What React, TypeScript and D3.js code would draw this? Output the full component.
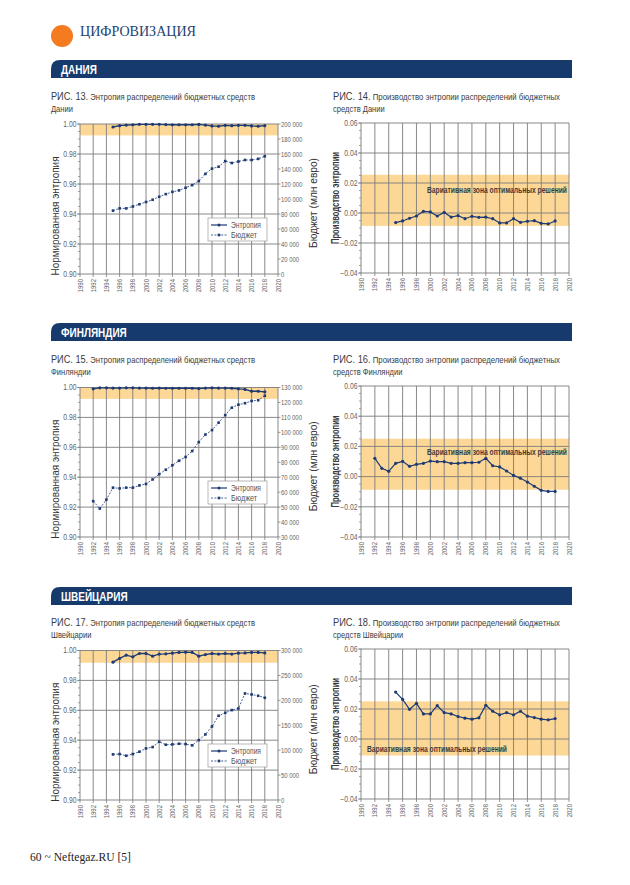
import React from 'react';
import * as d3 from 'd3';

const SANS = "'Liberation Sans', Arial, 'DejaVu Sans', sans-serif";
const SERIF = "'Liberation Serif', 'DejaVu Serif', serif";
const NAVY = '#173a6c';
const LINE = '#1d3a74';
const BAND = '#fcd796';
const GRID = '#7c7c7c';
const TICKTXT = '#666666';

// ---------- categories ----------
const xTicks = [1990, 1992, 1994, 1996, 1998, 2000, 2002, 2004, 2006, 2008, 2010, 2012, 2014, 2016, 2018, 2020];
const entropyTicks = [0.9, 0.92, 0.94, 0.96, 0.98, 1.0];
const productionTicks = [-0.04, -0.02, 0, 0.02, 0.04, 0.06];

// ---------- Denmark ----------
const dkYears = [1995, 1996, 1997, 1998, 1999, 2000, 2001, 2002, 2003, 2004, 2005, 2006, 2007, 2008, 2009, 2010, 2011, 2012, 2013, 2014, 2015, 2016, 2017, 2018];
const dkEntropy = [0.9980, 0.9989, 0.9993, 0.9995, 0.9998, 0.9998, 0.9998, 0.9998, 0.9996, 0.9995, 0.9995, 0.9995, 0.9995, 0.9997, 0.9993, 0.9987, 0.9985, 0.9991, 0.9989, 0.9991, 0.9991, 0.9987, 0.9985, 0.9989];
const dkBudget = [84500, 87500, 87500, 90000, 93000, 96000, 99000, 103000, 106500, 109500, 111500, 115000, 118500, 124000, 133500, 140500, 143000, 150500, 148000, 150000, 152000, 152000, 153500, 157000];
const dkBudgetTicks = [0, 20000, 40000, 60000, 80000, 100000, 120000, 140000, 160000, 180000, 200000];
const dkProduction = [-0.0064, -0.0053, -0.0035, -0.0020, 0.0011, 0.0007, -0.0020, 0.0004, -0.0027, -0.0018, -0.0038, -0.0022, -0.0029, -0.0027, -0.0038, -0.0066, -0.0066, -0.0038, -0.0062, -0.0055, -0.0051, -0.0069, -0.0073, -0.0053];
const dkZone = [-0.0086, 0.0255];
const dkEntropyBand = [0.9924, 1.0];

// ---------- Finland ----------
const fiYears = [1992, 1993, 1994, 1995, 1996, 1997, 1998, 1999, 2000, 2001, 2002, 2003, 2004, 2005, 2006, 2007, 2008, 2009, 2010, 2011, 2012, 2013, 2014, 2015, 2016, 2017, 2018];
const fiEntropy = [0.9991, 0.9998, 0.9998, 0.9996, 0.9996, 0.9998, 0.9998, 0.9996, 0.9996, 0.9995, 0.9996, 0.9995, 0.9995, 0.9995, 0.9995, 0.9995, 0.9993, 0.9996, 0.9998, 0.9996, 0.9996, 0.9995, 0.9991, 0.9987, 0.9975, 0.9975, 0.9971];
const fiBudget = [54000, 49000, 55000, 63000, 62500, 63000, 63000, 64500, 65500, 68500, 72000, 75000, 78000, 81000, 83500, 87500, 93500, 98500, 101500, 106500, 111500, 116500, 118500, 119500, 121000, 121500, 124500];
const fiBudgetTicks = [30000, 40000, 50000, 60000, 70000, 80000, 90000, 100000, 110000, 120000, 130000];
const fiProduction = [0.0121, 0.0055, 0.0035, 0.0088, 0.0101, 0.0068, 0.0081, 0.0088, 0.0103, 0.0099, 0.0099, 0.0088, 0.0088, 0.0092, 0.0092, 0.0095, 0.0121, 0.0072, 0.0064, 0.0037, 0.0008, -0.0011, -0.0036, -0.0064, -0.0091, -0.0098, -0.0098];
const fiZone = [-0.0087, 0.0251];
const fiEntropyBand = [0.9924, 1.0];

// ---------- Switzerland ----------
const chYears = [1995, 1996, 1997, 1998, 1999, 2000, 2001, 2002, 2003, 2004, 2005, 2006, 2007, 2008, 2009, 2010, 2011, 2012, 2013, 2014, 2015, 2016, 2017, 2018];
const chEntropy = [0.9922, 0.9947, 0.9969, 0.9958, 0.9980, 0.9980, 0.9962, 0.9976, 0.9978, 0.9982, 0.9987, 0.9989, 0.9987, 0.9962, 0.9973, 0.9980, 0.9976, 0.9980, 0.9976, 0.9982, 0.9984, 0.9987, 0.9987, 0.9984];
const chBudget = [91500, 92200, 88800, 92200, 96900, 103500, 106200, 116900, 110900, 111600, 112900, 112200, 109600, 120200, 131600, 147600, 169000, 175000, 180400, 183700, 213800, 211800, 209100, 205100];
const chBudgetTicks = [0, 50000, 100000, 150000, 200000, 250000, 300000];
const chProduction = [0.0313, 0.0264, 0.0198, 0.0238, 0.0167, 0.0167, 0.0222, 0.0176, 0.0167, 0.0150, 0.0139, 0.0132, 0.0141, 0.0225, 0.0185, 0.0161, 0.0176, 0.0161, 0.0185, 0.0152, 0.0143, 0.0132, 0.0128, 0.0136];
const chZone = [-0.011, 0.0251];
const chEntropyBand = [0.9918, 1.0];

const fmtY = d3.format('.2f');
const fmtBudget = (v: number) => d3.format(',')(v).replace(/,/g, '\u00a0');

const LEFT_X: [number, number] = [80, 278];
const RIGHT_X: [number, number] = [361, 569];

// condensed text: Liberation Sans squeezed horizontally
function CText({ x, y, rotate = 0, sx = 0.82, children, ...rest }: any) {
  return (
    <text transform={`translate(${x},${y})${rotate ? ` rotate(${rotate})` : ''} scale(${sx},1)`} fontFamily={SANS} {...rest}>
      {children}
    </text>
  );
}

function XAxis({ x, bottom }: { x: d3.ScaleLinear<number, number>; bottom: number }) {
  return (
    <g>
      {xTicks.map((t) => (
        <g key={t}>
          <line x1={x(t)} x2={x(t)} y1={bottom} y2={bottom + 3} stroke={GRID} strokeWidth={0.8} />
          <CText x={x(t) + 2.5} y={bottom + 5} rotate={-90} sx={0.8} textAnchor="end" fontSize={7.5} fill={TICKTXT}>
            {t}
          </CText>
        </g>
      ))}
    </g>
  );
}

function VGrid({ x, top, bottom }: { x: d3.ScaleLinear<number, number>; top: number; bottom: number }) {
  return (
    <g>
      {xTicks.map((t) => (
        <line key={t} x1={x(t)} x2={x(t)} y1={top} y2={bottom} stroke={GRID} strokeWidth={0.9} />
      ))}
    </g>
  );
}

function EntropyChart({ top, bottom, years, entropy, budget, budgetTicks, band }: {
  top: number; bottom: number; years: number[]; entropy: number[]; budget: number[]; budgetTicks: number[]; band: number[];
}) {
  const x = d3.scaleLinear().domain([1990, 2020]).range(LEFT_X);
  const y = d3.scaleLinear().domain([0.9, 1.0]).range([bottom, top]);
  const yb = d3.scaleLinear().domain([budgetTicks[0], budgetTicks[budgetTicks.length - 1]]).range([bottom, top]);
  const lineE = d3.line<number>().x((_, i) => x(years[i])).y((d) => y(d));
  const lineB = d3.line<number>().x((_, i) => x(years[i])).y((d) => yb(d));
  const [x0, x1] = LEFT_X;
  const mid = (top + bottom) / 2;
  return (
    <g>
      <rect x={x0} y={y(band[1])} width={x1 - x0} height={y(band[0]) - y(band[1])} fill={BAND} />
      <VGrid x={x} top={top} bottom={bottom} />
      {entropyTicks.map((t) => (
        <line key={t} x1={x0} x2={x1} y1={y(t)} y2={y(t)} stroke={GRID} strokeWidth={0.9} />
      ))}
      {y.ticks(20).map((t) => (
        <line key={'m' + t} x1={x0 - 2} x2={x0} y1={y(t)} y2={y(t)} stroke={GRID} strokeWidth={0.7} />
      ))}
      {entropyTicks.map((t) => (
        <g key={'l' + t}>
          <line x1={x0 - 3} x2={x0} y1={y(t)} y2={y(t)} stroke={GRID} strokeWidth={0.8} />
          <CText x={x0 - 3.5} y={y(t) + 2.8} textAnchor="end" fontSize={8.3} fill={TICKTXT}>
            {fmtY(t)}
          </CText>
        </g>
      ))}
      {budgetTicks.map((t) => (
        <g key={'b' + t}>
          <line x1={x1} x2={x1 + 2.5} y1={yb(t)} y2={yb(t)} stroke={GRID} strokeWidth={0.8} />
          <CText x={x1 + 3} y={yb(t) + 2.6} sx={0.76} fontSize={7.8} fill={TICKTXT}>
            {fmtBudget(t)}
          </CText>
        </g>
      ))}
      <XAxis x={x} bottom={bottom} />
      <path d={lineB(budget) || ''} fill="none" stroke={LINE} strokeWidth={0.8} strokeDasharray="2,1.4" />
      {budget.map((d, i) => (
        <rect key={'bp' + i} x={x(years[i]) - 1.3} y={yb(d) - 1.3} width={2.6} height={2.6} fill={LINE} />
      ))}
      <path d={lineE(entropy) || ''} fill="none" stroke={LINE} strokeWidth={1.3} />
      {entropy.map((d, i) => (
        <circle key={'ep' + i} cx={x(years[i])} cy={y(d)} r={1.6} fill={LINE} />
      ))}
      <g transform={`translate(208,${bottom - 56})`}>
        <rect x={0} y={0} width={59} height={23} fill="#fff" stroke="#9a9a9a" strokeWidth={0.7} />
        <line x1={3} x2={19} y1={7} y2={7} stroke={LINE} strokeWidth={1.2} />
        <circle cx={11} cy={7} r={1.5} fill={LINE} />
        <text x={23} y={10} fontFamily={SANS} fontSize={8.8} fill="#555" textLength={30} lengthAdjust="spacingAndGlyphs">Энтропия</text>
        <line x1={3} x2={19} y1={17} y2={17} stroke={LINE} strokeWidth={0.8} strokeDasharray="2,1.4" />
        <rect x={9.7} y={15.7} width={2.6} height={2.6} fill={LINE} />
        <text x={23} y={20} fontFamily={SANS} fontSize={8.8} fill="#555" textLength={26} lengthAdjust="spacingAndGlyphs">Бюджет</text>
      </g>
      <text
        transform={`translate(59,${mid + 17}) rotate(-90)`}
        textAnchor="middle"
        fontFamily={SANS}
        fontSize={11.4}
        fill="#333"
        textLength={119}
        lengthAdjust="spacingAndGlyphs"
      >
        Нормированная энтропия
      </text>
      <text
        transform={`translate(317,${mid + 4}) rotate(-90)`}
        textAnchor="middle"
        fontFamily={SANS}
        fontSize={11}
        fill="#333"
        textLength={90}
        lengthAdjust="spacingAndGlyphs"
      >
        Бюджет (млн евро)
      </text>
    </g>
  );
}

function ProductionChart({ top, bottom, years, values, zone, labelX, labelAnchor, labelDy }: {
  top: number; bottom: number; years: number[]; values: number[]; zone: number[];
  labelX: number; labelAnchor: 'start' | 'end'; labelDy: number;
}) {
  const x = d3.scaleLinear().domain([1990, 2020]).range(RIGHT_X);
  const y = d3.scaleLinear().domain([-0.04, 0.06]).range([bottom, top]);
  const line = d3.line<number>().x((_, i) => x(years[i])).y((d) => y(d));
  const [x0, x1] = RIGHT_X;
  const mid = (top + bottom) / 2;
  return (
    <g>
      <rect x={x0} y={y(zone[1])} width={x1 - x0} height={y(zone[0]) - y(zone[1])} fill={BAND} />
      <VGrid x={x} top={top} bottom={bottom} />
      {productionTicks.map((t) => (
        <line key={t} x1={x0} x2={x1} y1={y(t)} y2={y(t)} stroke={GRID} strokeWidth={0.9} />
      ))}
      {y.ticks(20).map((t) => (
        <line key={'m' + t} x1={x0 - 2} x2={x0} y1={y(t)} y2={y(t)} stroke={GRID} strokeWidth={0.7} />
      ))}
      {productionTicks.map((t) => (
        <g key={'l' + t}>
          <line x1={x0 - 3} x2={x0} y1={y(t)} y2={y(t)} stroke={GRID} strokeWidth={0.8} />
          <CText x={x0 - 3.5} y={y(t) + 2.8} textAnchor="end" fontSize={8.3} fill={TICKTXT}>
            {fmtY(t)}
          </CText>
        </g>
      ))}
      <XAxis x={x} bottom={bottom} />
      <text
        x={labelX}
        y={top + labelDy}
        textAnchor={labelAnchor}
        fontFamily={SANS}
        fontSize={9.7}
        fontWeight="bold"
        fill="#3b3b3b"
        textLength={140}
        lengthAdjust="spacingAndGlyphs"
      >
        Вариативная зона оптимальных решений
      </text>
      <path d={line(values) || ''} fill="none" stroke={LINE} strokeWidth={1.2} />
      {values.map((d, i) => (
        <circle key={i} cx={x(years[i])} cy={y(d)} r={1.6} fill={LINE} />
      ))}
      <text
        transform={`translate(339,${mid}) rotate(-90)`}
        textAnchor="middle"
        fontFamily={SANS}
        fontSize={10.5}
        fontWeight="bold"
        fill="#3a3a3a"
        textLength={92}
        lengthAdjust="spacingAndGlyphs"
      >
        Производство энтропии
      </text>
    </g>
  );
}

function SectionBar({ y, label }: { y: number; label: string }) {
  const x0 = 51, x1 = 572, h = 18, r = 9;
  const d = `M${x0},${y + h} L${x0},${y + r} Q${x0},${y} ${x0 + r},${y} L${x1},${y} L${x1},${y + h} Z`;
  return (
    <g>
      <path d={d} fill={NAVY} />
      <CText x={61} y={y + 14} sx={0.8} fontWeight="bold" fontSize={12.5} fill="#fff">{label}</CText>
    </g>
  );
}

function Caption({ x, y, num, line1, line2, width }: { x: number; y: number; num: string; line1: string; line2: string; width: number }) {
  return (
    <g fontFamily={SANS} fill="#3c3c3c">
      <text x={x} y={y} textLength={width} lengthAdjust="spacingAndGlyphs">
        <tspan fontSize={10}>{`РИС. ${num}.`}</tspan>
        <tspan fontSize={8.4}>{` ${line1}`}</tspan>
      </text>
      <CText x={x} y={y + 12} sx={0.9} fontSize={8.4}>{line2}</CText>
    </g>
  );
}

export default function App() {
  return (
    <svg width={630} height={885} style={{ position: 'absolute', left: 0, top: 0, background: '#fff' }}>
      <rect x={0} y={0} width={630} height={885} fill="#fff" />
      <circle cx={62} cy={36} r={11} fill="#f47b20" />
      <text x={80} y={35.5} fontFamily={SERIF} fontSize={14} fill="#1e3f73" textLength={116} lengthAdjust="spacingAndGlyphs">ЦИФРОВИЗАЦИЯ</text>

      <SectionBar y={60} label="ДАНИЯ" />
      <Caption x={51} y={100} num="13" line1="Энтропия распределений бюджетных средств" line2="Дании" width={204} />
      <Caption x={333} y={100} num="14" line1="Производство энтропии распределений бюджетных" line2="средств Дании" width={227} />
      <EntropyChart top={124} bottom={274} years={dkYears} entropy={dkEntropy} budget={dkBudget} budgetTicks={dkBudgetTicks} band={dkEntropyBand} />
      <ProductionChart top={123} bottom={273} years={dkYears} values={dkProduction} zone={dkZone} labelX={567} labelAnchor="end" labelDy={70} />

      <SectionBar y={323} label="ФИНЛЯНДИЯ" />
      <Caption x={51} y={363} num="15" line1="Энтропия распределений бюджетных средств" line2="Финляндии" width={204} />
      <Caption x={333} y={363} num="16" line1="Производство энтропии распределений бюджетных" line2="средств Финляндии" width={227} />
      <EntropyChart top={387.5} bottom={537} years={fiYears} entropy={fiEntropy} budget={fiBudget} budgetTicks={fiBudgetTicks} band={fiEntropyBand} />
      <ProductionChart top={386} bottom={537} years={fiYears} values={fiProduction} zone={fiZone} labelX={567} labelAnchor="end" labelDy={69} />

      <SectionBar y={587} label="ШВЕЙЦАРИЯ" />
      <Caption x={51} y={626} num="17" line1="Энтропия распределений бюджетных средств" line2="Швейцарии" width={204} />
      <Caption x={333} y={626} num="18" line1="Производство энтропии распределений бюджетных" line2="средств Швейцарии" width={227} />
      <EntropyChart top={650.5} bottom={800} years={chYears} entropy={chEntropy} budget={chBudget} budgetTicks={chBudgetTicks} band={chEntropyBand} />
      <ProductionChart top={649} bottom={799} years={chYears} values={chProduction} zone={chZone} labelX={367} labelAnchor="start" labelDy={103} />

      <text x={30} y={861} fontFamily={SERIF} fontSize={12} fill="#222" textLength={101} lengthAdjust="spacingAndGlyphs">60 ~ Neftegaz.RU [5]</text>
    </svg>
  );
}
